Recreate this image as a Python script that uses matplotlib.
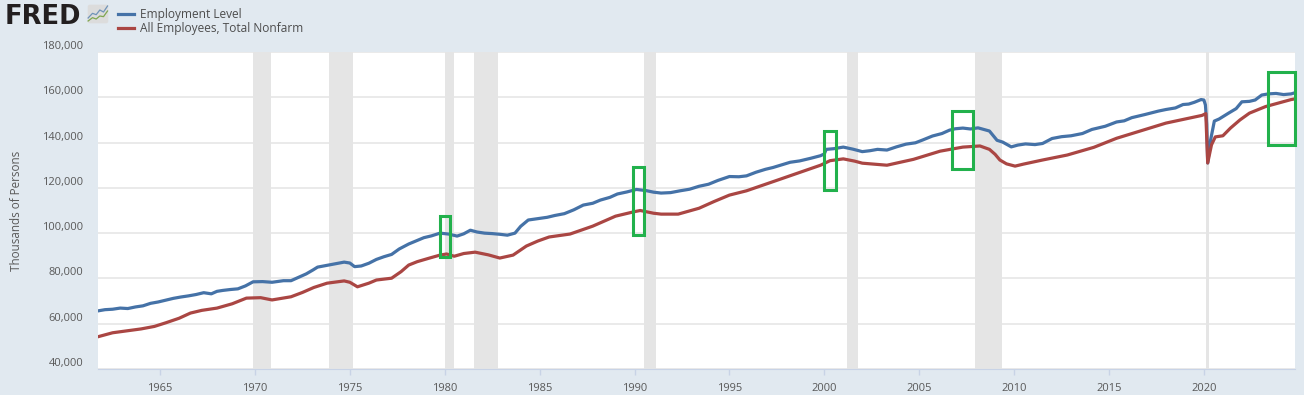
import matplotlib
matplotlib.use('Agg')
import matplotlib.pyplot as plt
from matplotlib.patches import Rectangle, FancyBboxPatch
from matplotlib.ticker import FuncFormatter

plt.rcParams['font.family'] = ['Open Sans', 'DejaVu Sans']

# Thousands of persons
emp_years = [1961.75, 1962.1, 1962.5, 1962.9, 1963.3, 1963.7, 1964.1, 1964.5,
             1964.9, 1965.3, 1965.7, 1966.1, 1966.5, 1966.9, 1967.3, 1967.7,
             1968, 1968.3, 1968.7, 1969.1, 1969.5, 1969.9, 1970.4, 1970.9,
             1971.5, 1971.9, 1972.3, 1972.7, 1973.05, 1973.3, 1973.8, 1974.3,
             1974.7, 1975, 1975.25, 1975.6, 1976, 1976.4, 1976.8, 1977.2,
             1977.6, 1978.1, 1978.5, 1978.9, 1979.3, 1979.75, 1980.2, 1980.65,
             1981, 1981.35, 1981.7, 1982.1, 1982.5, 1982.9, 1983.3, 1983.7,
             1984, 1984.4, 1984.9, 1985.4, 1985.8, 1986.3, 1986.8, 1987.3,
             1987.8, 1988.2, 1988.7, 1989.1, 1989.6, 1990.1, 1990.6, 1991,
             1991.4, 1991.9, 1992.4, 1992.9, 1993.4, 1993.9, 1994.4, 1995,
             1995.5, 1995.9, 1996.4, 1996.9, 1997.3, 1997.7, 1998.2, 1998.7,
             1999.3, 1999.8, 2000, 2000.1, 2000.5, 2001, 2001.5, 2002,
             2002.4, 2002.8, 2003.3, 2003.8, 2004.3, 2004.8, 2005.2, 2005.7,
             2006.2, 2006.6, 2006.9, 2007.3, 2007.7, 2008.1, 2008.7, 2009.1,
             2009.4, 2009.85, 2010.2, 2010.6, 2011.1, 2011.5, 2012, 2012.5,
             2013, 2013.6, 2014.1, 2014.8, 2015.4, 2015.8, 2016.2, 2016.9,
             2017.6, 2018, 2018.5, 2018.9, 2019.2, 2019.5, 2019.85, 2020,
             2020.08, 2020.15, 2020.2, 2020.35, 2020.55, 2020.8, 2021.3, 2021.7,
             2022, 2022.4, 2022.7, 2023.05, 2023.4, 2023.8, 2024.2, 2024.6,
             2024.8]
emp_level = [65700, 66200, 66400, 66900, 66700, 67400, 67900, 69000,
             69600, 70400, 71200, 71800, 72300, 72900, 73700, 73200,
             74300, 74700, 75100, 75400, 76700, 78500, 78600, 78300,
             79000, 79000, 80500, 82000, 83700, 85000, 85800, 86600,
             87200, 86800, 85200, 85500, 86700, 88400, 89600, 90600,
             93000, 95200, 96600, 98000, 98800, 100000, 99600, 98700,
             99700, 101300, 100500, 100000, 99800, 99500, 99100, 100000,
             103000, 105800, 106400, 107000, 107800, 108600, 110300, 112400,
             113200, 114600, 115800, 117300, 118200, 119300, 118800, 118100,
             117700, 117900, 118700, 119400, 120700, 121600, 123300, 125000,
             124900, 125300, 126900, 128200, 129000, 130000, 131300, 131900,
             133100, 134200, 135000, 137000, 137300, 138000, 137100, 136000,
             136400, 137000, 136700, 138100, 139300, 139900, 141200, 142900,
             144000, 145500, 146100, 146400, 146000, 146500, 145100, 141000,
             140200, 138100, 138900, 139400, 139100, 139600, 141800, 142600,
             143000, 144000, 145800, 147200, 149100, 149600, 151000, 152400,
             153900, 154600, 155300, 156800, 157000, 157800, 159000, 158800,
             156600, 148000, 131000, 141000, 149500, 150400, 153000, 155000,
             158000, 158200, 158800, 161000, 161500, 161700, 161200, 161500,
             162000]

payroll_years = [1961.75, 1962.5, 1964, 1964.7, 1965.3, 1966, 1966.6, 1967.2, 1968, 1968.8, 1969.55, 1970.3,
                 1970.9, 1971.9, 1972.5, 1973.1, 1973.8, 1974.7, 1975, 1975.4, 1976, 1976.4, 1977.2,
                 1977.7, 1978.1, 1978.55, 1979.2, 1979.75, 1980.1, 1980.5, 1981, 1981.6, 1982.3, 1982.9,
                 1983.6, 1984.3, 1984.9, 1985.5, 1986.6, 1987.8, 1989, 1990, 1990.3,
                 1991, 1991.4, 1992.3, 1993.4, 1994.2, 1995, 1995.9, 1997.7, 1999.8, 2000.3,
                 2001, 2001.6, 2002, 2003.3, 2004.7, 2006.1, 2007.3, 2008.2, 2008.7, 2009,
                 2009.25, 2009.6, 2010.05, 2010.5, 2011.5, 2012.8, 2014.2, 2015.4, 2018,
                 2019.9, 2020.1, 2020.2, 2020.4, 2020.6, 2021, 2021.4, 2021.9, 2022.4, 2023.25,
                 2024.6, 2024.8]
payroll_level = [54300, 56000, 57700, 58800, 60400, 62400, 64700, 65900, 66900, 68800, 71300, 71500,
                 70500, 71900, 73800, 76000, 77900, 78900, 78300, 76300, 77900, 79300, 80100,
                 83000, 85900, 87400, 89000, 90300, 90800, 89800, 91000, 91600, 90400, 89000,
                 90300, 94300, 96500, 98300, 99600, 103100, 107500, 109500, 110000,
                 108800, 108400, 108400, 111000, 114000, 116800, 118700, 123900, 130000, 132000,
                 132800, 131800, 130900, 130000, 132600, 136200, 138000, 138500, 137000, 134800,
                 132300, 130600, 129600, 130500, 132300, 134500, 137900, 141900, 148600,
                 152000, 152800, 131000, 139000, 142500, 143000, 146400, 150000, 153000, 155900,
                 159000, 159300]

recession_start = [1969.92, 1973.9, 1980.0, 1981.55, 1990.52, 2001.17, 2007.92, 2020.12]
recession_end = [1970.85, 1975.15, 1980.47, 1982.83, 1991.15, 2001.8, 2009.38, 2020.28]

box_start = [1979.75, 1989.92, 1999.98, 2006.75, 2023.4]
box_end = [1980.27, 1990.48, 2000.6, 2007.85, 2024.8]
box_low = [89500, 99000, 119000, 128500, 139000]
box_high = [107500, 129000, 145000, 154000, 171000]

year_ticks = list(range(1965, 2025, 5))
value_ticks = list(range(40000, 200000, 20000))

bg = '#e1e9f0'
text_col = '#595959'
blue = '#4572a7'
red = '#aa4643'
green = '#22b14c'

fig = plt.figure(figsize=(13.04, 3.95), dpi=100, facecolor=bg)
ax = fig.add_axes([98 / 1304, 1 - 369 / 395, 1197 / 1304, 317 / 395])

for a, b in zip(recession_start, recession_end):
    ax.axvspan(a, b, color='#e5e5e5', lw=0, zorder=1)
ax.yaxis.grid(True, color='#e6e6e6', lw=1.2, zorder=0)
ax.set_axisbelow(True)

line1, = ax.plot(emp_years, emp_level, color=blue, lw=2.3, zorder=3, solid_joinstyle='round', label='Employment Level')
line2, = ax.plot(payroll_years, payroll_level, color=red, lw=2.3, zorder=3, solid_joinstyle='round',
                 label='All Employees, Total Nonfarm')

for a, b, lo, hi in zip(box_start, box_end, box_low, box_high):
    ax.add_patch(Rectangle((a, lo), b - a, hi - lo, fill=False, ec=green, lw=2.2, zorder=4, clip_on=False))

ax.set_xlim(1961.73, 2024.8)
ax.set_xticks(year_ticks)
ax.set_yticks(value_ticks)
ax.set_ylim(40000, 180000)
ax.yaxis.set_major_formatter(FuncFormatter(lambda v, p: f'{int(v):,}'))
ax.tick_params(axis='x', colors=text_col, labelsize=8, length=4, width=1, color='#c8d3e6', pad=6)
ax.tick_params(axis='y', colors=text_col, labelsize=8, length=0, pad=10.5)
for t in ax.get_yticklabels():
    t.set_verticalalignment('bottom')
for s in ['top', 'left', 'right']:
    ax.spines[s].set_visible(False)
ax.spines['bottom'].set_color('#c8d3e6')
ax.set_ylabel('Thousands of Persons', color=text_col, fontsize=8.4)
ax.yaxis.set_label_coords(-0.0627, 0.498)

# FRED logo and legend sit in the header strip
fig.text(5 / 1304, 1 - 23.5 / 395, 'FRED', family=['DejaVu Sans'], fontsize=18.5, fontweight='bold',
         color='#231f20', va='baseline')
icon = fig.add_axes([87 / 1304, 1 - 24 / 395, 22 / 1304, 20 / 395])
icon.axis('off')
icon.set_xlim(0, 6)
icon.set_ylim(0, 6)
icon.add_patch(FancyBboxPatch((0.2, 0.2), 5.6, 5.6, boxstyle='round,pad=0,rounding_size=0.6', fc='#dcdcdc', ec='none'))
icon.plot([0.3, 1.5, 2.5, 3.5, 4.5, 5.6], [1.8, 3.2, 2.8, 4.2, 3.6, 5.4], color='#6f93b8', lw=0.9)
icon.plot([0.3, 1.5, 2.5, 3.5, 4.5, 5.6], [0.9, 1.9, 1.5, 2.4, 2.2, 3.9], color='#7fa650', lw=0.9)

leg = fig.legend(handles=[line1, line2], loc='upper left', bbox_to_anchor=(118 / 1304, 1 - 8 / 395), frameon=False,
                 fontsize=8.6, handlelength=1.35, handletextpad=0.45, labelspacing=0.08, borderpad=0, borderaxespad=0)
for t in leg.get_texts():
    t.set_color('#4d4d4d')

fig.savefig('out.png', dpi=100, facecolor=bg)
